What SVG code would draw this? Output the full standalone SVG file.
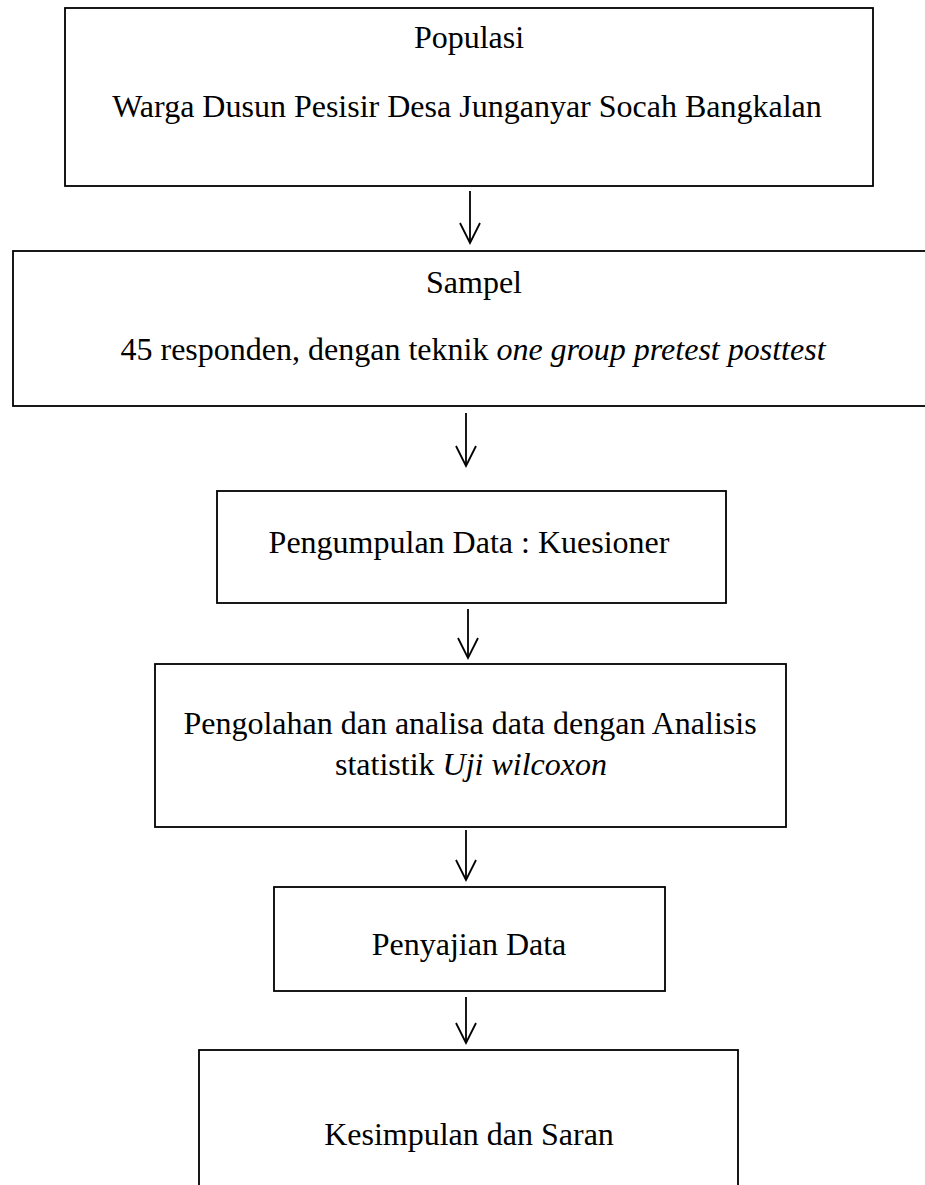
<svg xmlns="http://www.w3.org/2000/svg" width="925" height="1185" viewBox="0 0 925 1185">
<style>
.box{fill:#fff;stroke:#000;stroke-width:1.8}
.t{font-family:"Liberation Serif","Times New Roman",serif;font-size:32px;fill:#000;text-anchor:middle}
.i{font-style:italic}
.c{stroke:#000;stroke-width:1.8;fill:none}
</style>
<defs>
<marker id="ah" markerWidth="24" markerHeight="24" refX="21" refY="11" orient="auto" markerUnits="userSpaceOnUse" viewBox="0 0 24 24">
<path d="M1,1 L21,11 L1,21" fill="none" stroke="#000" stroke-width="1.8"/>
</marker>
</defs>
<g id="populasi">
<rect class="box" x="65" y="8" width="808" height="178"/>
<text class="t" x="469" y="48">Populasi</text>
<text class="t" x="467" y="117">Warga Dusun Pesisir Desa Junganyar Socah Bangkalan</text>
</g>
<g id="sampel">
<rect class="box" x="13" y="251" width="930" height="155"/>
<text class="t" x="474" y="293">Sampel</text>
<text class="t" x="473" y="360">45 responden, dengan teknik <tspan class="i">one group pretest posttest</tspan></text>
</g>
<g id="pengumpulan">
<rect class="box" x="217" y="491" width="509" height="112"/>
<text class="t" x="469" y="553">Pengumpulan Data : Kuesioner</text>
</g>
<g id="pengolahan">
<rect class="box" x="155" y="664" width="631" height="163"/>
<text class="t" x="470" y="734">Pengolahan dan analisa data dengan Analisis</text>
<text class="t" x="471" y="775">statistik <tspan class="i">Uji wilcoxon</tspan></text>
</g>
<g id="penyajian">
<rect class="box" x="274" y="887" width="391" height="104"/>
<text class="t" x="469" y="955">Penyajian Data</text>
</g>
<g id="kesimpulan">
<rect class="box" x="199" y="1050" width="539" height="160"/>
<text class="t" x="469" y="1145">Kesimpulan dan Saran</text>
</g>
<g id="connectors">
<line class="c" x1="470" y1="191" x2="470" y2="243" marker-end="url(#ah)"/>
<line class="c" x1="466" y1="413" x2="466" y2="466" marker-end="url(#ah)"/>
<line class="c" x1="468" y1="609" x2="468" y2="658" marker-end="url(#ah)"/>
<line class="c" x1="466" y1="830" x2="466" y2="880" marker-end="url(#ah)"/>
<line class="c" x1="466" y1="997" x2="466" y2="1043" marker-end="url(#ah)"/>
</g>
</svg>
